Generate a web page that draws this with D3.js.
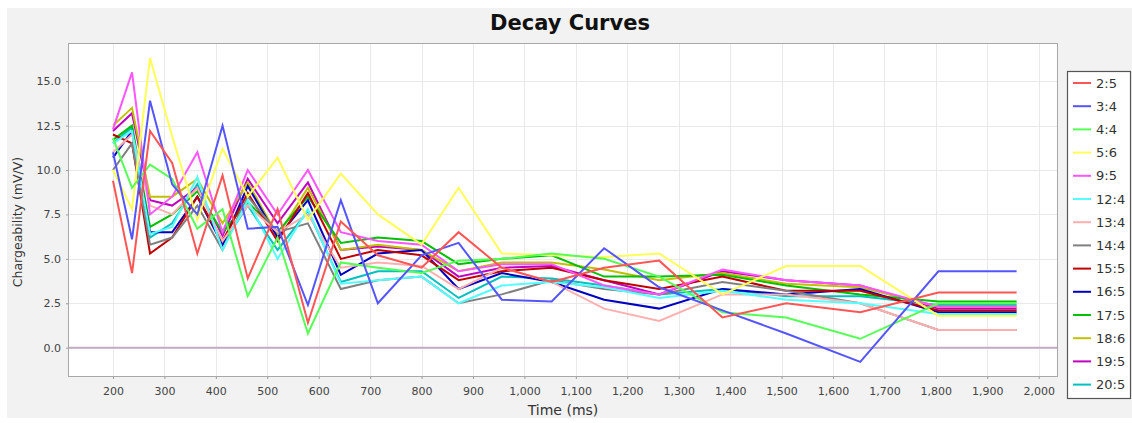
<!DOCTYPE html>
<html>
<head>
<meta charset="utf-8">
<script src="https://cdn.jsdelivr.net/npm/d3@7"></script>
<style>
  html, body { margin: 0; padding: 0; background: #fff; }
  svg { display: block; font-family: "DejaVu Sans", sans-serif; }
</style>
</head>
<body>
<div id="chart"></div>
<script>
// --- data ---
const times = [200, 237, 272, 315, 364, 413, 462, 520, 579, 643, 715, 800, 872, 956, 1053, 1155, 1262, 1385, 1509, 1653, 1805, 1957];

const seriesNames = ["2:5", "3:4", "4:4", "5:6", "9:5", "12:4", "13:4", "14:4", "15:5", "16:5", "17:5", "18:6", "19:5", "20:5"];
const seriesColors = ["#ff5555", "#5555ff", "#55ff55", "#ffff55", "#ff55ff", "#55ffff", "#ffafaf", "#808080",
                      "#c00000", "#0000c0", "#00c000", "#c0c000", "#c000c0", "#00c0c0"];

const s2_5  = [9.4, 4.2, 12.2, 10.4, 5.3, 9.7, 3.9, 7.8, 1.4, 7.1, 5.2, 4.5, 6.5, 4.5, 3.7, 4.5, 4.9, 1.7, 2.5, 2.0, 3.1, 3.1];
const s3_4  = [11.0, 6.1, 13.9, 9.2, 7.5, 12.5, 6.7, 6.8, 2.4, 8.3, 2.5, 5.2, 5.9, 2.7, 2.6, 5.6, 3.4, 2.1, 0.8, -0.8, 4.3, 4.3];
const s4_4  = [11.8, 9.0, 10.3, 9.5, 6.7, 7.8, 2.9, 6.2, 0.8, 4.8, 4.5, 4.2, 4.9, 5.0, 5.3, 5.0, 4.0, 2.0, 1.7, 0.5, 2.5, 2.5];
const s5_6  = [10.0, 7.8, 16.3, 11.9, 7.2, 11.2, 8.5, 10.7, 7.2, 9.8, 7.5, 5.8, 9.0, 5.3, 5.2, 5.1, 5.3, 3.0, 4.6, 4.6, 1.8, 1.8];
const s9_5  = [12.3, 15.5, 7.5, 8.5, 11.0, 6.5, 10.0, 7.5, 10.0, 6.5, 6.0, 5.8, 4.3, 4.7, 4.7, 3.5, 3.0, 4.4, 3.8, 3.5, 2.3, 2.3];
const s12_4 = [11.5, 12.2, 6.4, 6.8, 9.6, 5.5, 8.3, 5.0, 7.8, 3.6, 3.8, 4.0, 2.5, 3.5, 3.7, 3.4, 2.8, 3.2, 2.7, 2.5, 1.9, 1.9];
const s13_4 = [11.0, 12.0, 8.0, 7.5, 9.0, 6.0, 8.0, 6.5, 7.5, 4.5, 4.8, 4.6, 3.3, 4.5, 3.7, 2.2, 1.5, 3.0, 3.0, 2.5, 1.0, 1.0];
const s14_4 = [10.0, 11.5, 5.8, 6.2, 8.0, 5.5, 8.5, 6.5, 7.0, 3.3, 3.8, 4.0, 2.5, 3.0, 3.8, 3.3, 3.0, 3.7, 3.2, 2.5, 1.0, 1.0];
const s15_5 = [12.0, 11.5, 5.3, 6.2, 8.5, 6.0, 8.7, 6.0, 8.7, 5.0, 5.5, 5.2, 3.8, 4.3, 4.5, 3.8, 3.3, 4.0, 3.2, 3.2, 2.1, 2.1];
const s16_5 = [10.7, 12.2, 6.5, 6.5, 8.5, 5.8, 9.1, 6.2, 8.3, 4.1, 5.3, 5.5, 3.3, 4.2, 3.7, 2.7, 2.2, 3.3, 3.0, 3.3, 2.0, 2.0];
const s17_5 = [11.7, 12.5, 6.8, 7.5, 8.8, 6.5, 8.2, 6.5, 8.5, 5.9, 6.2, 6.0, 4.7, 5.0, 5.2, 4.0, 4.0, 4.1, 3.5, 3.0, 2.6, 2.6];
const s18_6 = [12.5, 13.5, 8.5, 8.5, 9.5, 7.0, 9.3, 6.3, 9.0, 5.5, 5.8, 5.5, 4.3, 4.8, 4.8, 4.4, 3.8, 4.2, 3.6, 3.4, 2.3, 2.3];
const s19_5 = [12.2, 13.2, 8.3, 8.0, 9.0, 6.3, 9.5, 7.0, 9.3, 5.5, 5.7, 5.5, 4.0, 4.5, 4.6, 3.8, 3.0, 4.3, 3.8, 3.5, 2.2, 2.2];
const s20_5 = [11.5, 12.4, 6.2, 7.0, 9.2, 5.8, 8.0, 5.5, 7.7, 3.7, 4.3, 4.3, 2.8, 4.0, 3.9, 3.5, 3.0, 3.3, 2.9, 2.9, 2.4, 2.4];

const seriesValues = [s2_5, s3_4, s4_4, s5_6, s9_5, s12_4, s13_4, s14_4, s15_5, s16_5, s17_5, s18_6, s19_5, s20_5];

const xTicks = d3.range(200, 2001, 100);
const yTicks = [0, 2.5, 5, 7.5, 10, 12.5, 15];

// --- layout ---
const W = 1132, H = 423;
const plot = { left: 68, top: 43, right: 1058, bottom: 377 };

const svg = d3.select("#chart").append("svg")
  .attr("width", W)
  .attr("height", H);

// 外枠の灰色背景
svg.append("rect")
  .attr("x", 7).attr("y", 8)
  .attr("width", W - 7).attr("height", 410)
  .attr("fill", "#f2f2f2");

const x = d3.scaleLinear().domain([112.5, 2037.5]).range([plot.left, plot.right]);
const y = d3.scaleLinear().domain([-1.65, 17.15]).range([plot.bottom, plot.top]);

// plot background
svg.append("rect")
  .attr("x", plot.left).attr("y", plot.top)
  .attr("width", plot.right - plot.left).attr("height", plot.bottom - plot.top)
  .attr("fill", "#fff");

// grid
const grid = svg.append("g").attr("stroke", "#e9e9e9").attr("stroke-width", 1);
grid.selectAll(".gx").data(xTicks).enter().append("line")
  .attr("x1", d => Math.round(x(d)) + 0.5).attr("x2", d => Math.round(x(d)) + 0.5)
  .attr("y1", plot.top).attr("y2", plot.bottom);
grid.selectAll(".gy").data(yTicks).enter().append("line")
  .attr("x1", plot.left).attr("x2", plot.right)
  .attr("y1", d => Math.round(y(d)) + 0.5).attr("y2", d => Math.round(y(d)) + 0.5);

// zero line
svg.append("line")
  .attr("x1", plot.left).attr("x2", plot.right)
  .attr("y1", y(0)).attr("y2", y(0))
  .attr("stroke", "#c2adc2").attr("stroke-width", 2);

// series (先頭の系列が最前面)
const line = d3.line()
  .x((d, i) => x(times[i]))
  .y(d => y(d));

svg.append("clipPath").attr("id", "clip").append("rect")
  .attr("x", plot.left).attr("y", plot.top)
  .attr("width", plot.right - plot.left).attr("height", plot.bottom - plot.top);

const seriesG = svg.append("g").attr("clip-path", "url(#clip)");
const order = d3.range(seriesValues.length).reverse();
seriesG.selectAll(".series")
  .data(order)
  .enter().append("path")
  .attr("class", "series")
  .attr("d", i => line(seriesValues[i]))
  .attr("fill", "none")
  .attr("stroke", i => seriesColors[i])
  .attr("stroke-width", 2)
  .attr("stroke-linejoin", "miter");

// plot border
svg.append("rect")
  .attr("x", plot.left + 0.5).attr("y", plot.top + 0.5)
  .attr("width", plot.right - plot.left - 1).attr("height", plot.bottom - plot.top - 1)
  .attr("fill", "none").attr("stroke", "#a8a8a8");

// axes
const xAxis = d3.axisBottom(x).tickValues(xTicks).tickFormat(d3.format(",")).tickSize(2).tickPadding(8);
const yAxis = d3.axisLeft(y).tickValues(yTicks).tickFormat(d3.format(".1f")).tickSize(2).tickPadding(5);

const gx = svg.append("g").attr("transform", `translate(0,${plot.bottom})`).call(xAxis);
const gy = svg.append("g").attr("transform", `translate(${plot.left},0)`).call(yAxis);
[gx, gy].forEach(g => {
  g.select(".domain").remove();
  g.selectAll(".tick line").attr("stroke", "#999");
  g.selectAll(".tick text").attr("fill", "#444").style("font-size", "11px")
    .style("font-family", "'DejaVu Sans', sans-serif");
});

// axis labels
svg.append("text")
  .attr("x", (plot.left + plot.right) / 2).attr("y", 415)
  .attr("text-anchor", "middle")
  .attr("fill", "#333")
  .style("font-size", "14px")
  .text("Time (ms)");

svg.append("text")
  .attr("transform", `translate(22,${(plot.top + plot.bottom) / 2 + 12}) rotate(-90)`)
  .attr("text-anchor", "middle")
  .attr("fill", "#333")
  .style("font-size", "12.5px")
  .text("Chargeability (mV/V)");

// title
svg.append("text")
  .attr("x", 570).attr("y", 30)
  .attr("text-anchor", "middle")
  .attr("fill", "#111")
  .style("font-size", "21px")
  .style("font-weight", "bold")
  .text("Decay Curves");

// legend
const legend = { x: 1067, y: 71, w: 63, h: 327, row: 23.2, first: 12 };
svg.append("rect")
  .attr("x", legend.x + 0.5).attr("y", legend.y + 0.5)
  .attr("width", legend.w).attr("height", legend.h)
  .attr("fill", "#fff").attr("stroke", "#555").attr("stroke-width", 1.2);

const items = svg.selectAll(".legend-item")
  .data(seriesNames)
  .enter().append("g")
  .attr("class", "legend-item")
  .attr("transform", (d, i) => `translate(${legend.x},${legend.y + legend.first + i * legend.row})`);

items.append("line")
  .attr("x1", 6).attr("x2", 24)
  .attr("y1", 0).attr("y2", 0)
  .attr("stroke", (d, i) => seriesColors[i])
  .attr("stroke-width", 2);

items.append("text")
  .attr("x", 29).attr("y", 0).attr("dy", "0.35em")
  .attr("fill", "#333")
  .style("font-size", "13px")
  .text(d => d);
</script>
</body>
</html>
